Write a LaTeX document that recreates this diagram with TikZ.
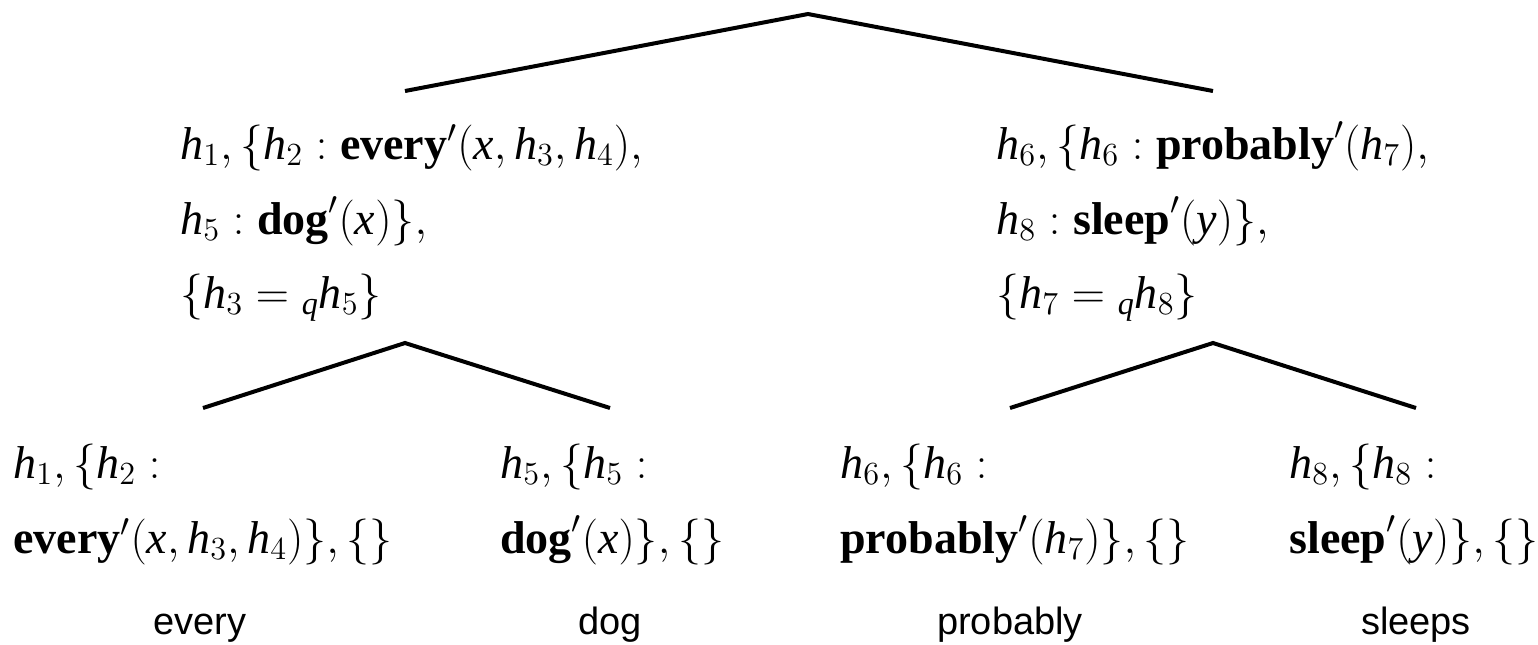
\documentclass[tikz,border=0pt]{standalone}
\usepackage{fix-cm}
\usepackage{amsmath}
\usepackage{fontspec}
\setmainfont{Liberation Serif}[ItalicFont={Liberation Serif Italic},BoldFont={Liberation Serif Bold}]
\newfontfamily\wordfont{Liberation Sans}
\newcommand\vh{\textit{h}}
\newcommand\vx{\textit{x}}
\newcommand\vy{\textit{y}}
\newcommand\vq{\textit{q}}
\newcommand\pred[1]{\textbf{#1}'}
\begin{document}
\begin{tikzpicture}[x=0.5pt,y=-0.5pt,
  semline/.style={font=\fontsize{23}{28}\selectfont, anchor=base west, inner sep=0pt},
  wordlbl/.style={font=\wordfont\fontsize{19}{23}\selectfont, anchor=base, inner sep=0pt},
  branch/.style={line width=2pt}]
\useasboundingbox (0,0) rectangle (1538,644);
% tree coordinates
\coordinate (top) at (808,14);
\coordinate (tl) at (405,91);
\coordinate (tr) at (1213,91);
\coordinate (ltop) at (405,343);
\coordinate (ll) at (203,408);
\coordinate (lr) at (610,408);
\coordinate (rtop) at (1213,343);
\coordinate (rl) at (1010,408);
\coordinate (rr) at (1416,408);
\draw[branch] (tl) -- (top) -- (tr);
\draw[branch] (ll) -- (ltop) -- (lr);
\draw[branch] (rl) -- (rtop) -- (rr);
% middle left
\node[semline] (ma1) at (180,159) {$\vh_1, \{\vh_2 : \pred{every}(\vx, \vh_3, \vh_4),$};
\node[semline] (ma2) at (180,234) {$\vh_5 : \pred{dog}(\vx)\},$};
\node[semline] (ma3) at (180,308) {$\{\vh_3 = {}_{\vq}\vh_5\}$};
% middle right
\node[semline] (mb1) at (996,159) {$\vh_6, \{\vh_6 : \pred{probably}(\vh_7),$};
\node[semline] (mb2) at (996,234) {$\vh_8 : \pred{sleep}(\vy)\},$};
\node[semline] (mb3) at (996,308) {$\{\vh_7 = {}_{\vq}\vh_8\}$};
% leaves
\node[semline] (la1) at (13,478) {$\vh_1, \{\vh_2 :$};
\node[semline] (la2) at (13,553) {$\pred{every}(\vx, \vh_3, \vh_4)\}, \{\}$};
\node[semline] (lb1) at (500,478) {$\vh_5, \{\vh_5 :$};
\node[semline] (lb2) at (500,553) {$\pred{dog}(\vx)\}, \{\}$};
\node[semline] (lc1) at (840,478) {$\vh_6, \{\vh_6 :$};
\node[semline] (lc2) at (840,553) {$\pred{probably}(\vh_7)\}, \{\}$};
\node[semline] (ld1) at (1289,478) {$\vh_8, \{\vh_8 :$};
\node[semline] (ld2) at (1289,553) {$\pred{sleep}(\vy)\}, \{\}$};
% words
\node[wordlbl] (w1) at (200,634) {every};
\node[wordlbl] (w2) at (610,634) {dog};
\node[wordlbl] (w3) at (1010,634) {probably};
\node[wordlbl] (w4) at (1416,634) {sleeps};
\end{tikzpicture}
\end{document}
